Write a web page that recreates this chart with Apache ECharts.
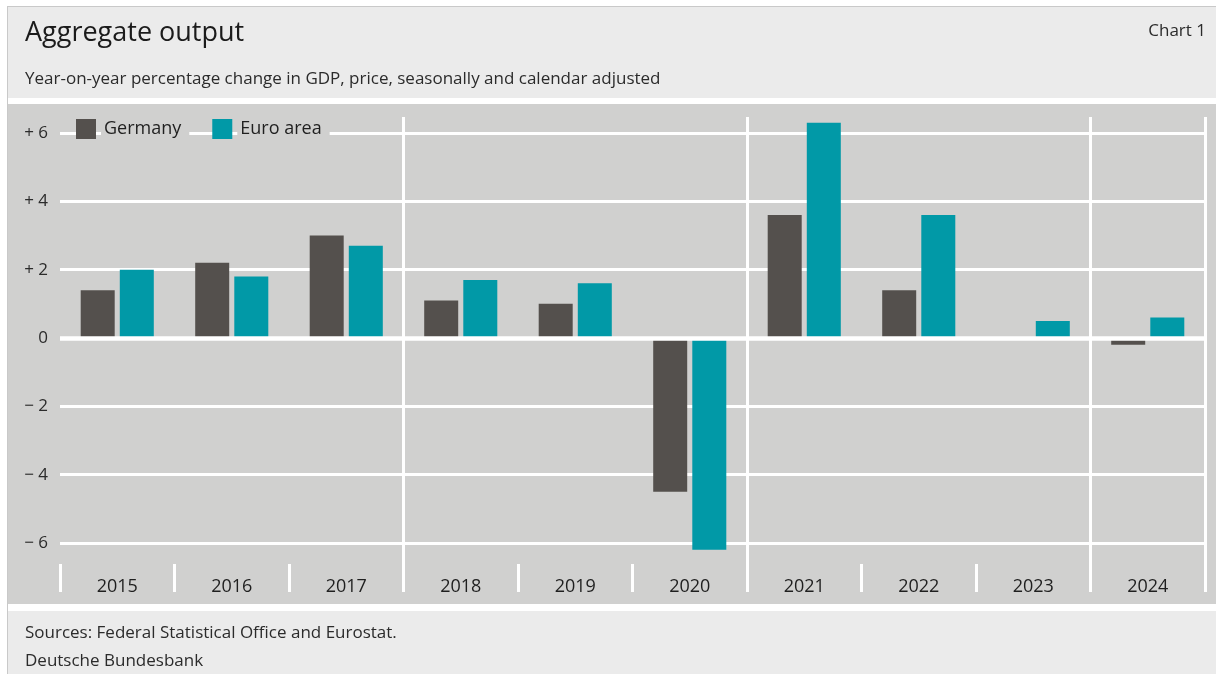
<!DOCTYPE html>
<html>
<head>
<meta charset="utf-8">
<script src="https://cdn.jsdelivr.net/npm/echarts@6/dist/echarts.min.js"></script>
<style>
  html, body { margin: 0; padding: 0; background: #ffffff; width: 1216px; height: 674px; overflow: hidden; }
  #panel { position: absolute; left: 7px; top: 6px; width: 1209px; height: 668px; background: #ebebeb; border-left: 1px solid #c9c9c9; border-top: 1px solid #c9c9c9; box-sizing: border-box; }
  #band1 { position: absolute; left: 8px; top: 98px; width: 1208px; height: 6px; background: #ffffff; }
  #plotbg { position: absolute; left: 8px; top: 104px; width: 1208px; height: 500px; background: #d0d0cf; }
  #band2 { position: absolute; left: 8px; top: 604px; width: 1208px; height: 7px; background: #ffffff; }
  #chart { position: absolute; left: 0; top: 0; width: 1216px; height: 674px; }
</style>
</head>
<body>
<div id="panel"></div>
<div id="band1"></div>
<div id="plotbg"></div>
<div id="band2"></div>
<div id="chart"></div>
<script>
// ---- data ----
const years = ['2015', '2016', '2017', '2018', '2019', '2020', '2021', '2022', '2023', '2024'];
const germany = [1.4, 2.2, 3.0, 1.1, 1.0, -4.5, 3.6, 1.4, 0.0, -0.2];
const euroArea = [2.0, 1.8, 2.7, 1.7, 1.6, -6.2, 6.3, 3.6, 0.5, 0.6];
const seriesNames = ['Germany', 'Euro area'];
const yTicks = { min: -6, max: 6, interval: 2 };
const titleText = 'Aggregate output';
const subtitleText = 'Year-on-year percentage change in GDP, price, seasonally and calendar adjusted';
const chartNo = 'Chart 1';
const sourceText = 'Sources: Federal Statistical Office and Eurostat.';
const publisher = 'Deutsche Bundesbank';

const FONT = '"Open Sans", "Noto Sans", sans-serif';
const chart = echarts.init(document.getElementById('chart'), null, { renderer: 'canvas' });

function fmtY(v) {
  if (v > 0) return '+ ' + v;
  if (v < 0) return '\u2212 ' + (-v);
  return '0';
}

chart.setOption({
  animation: false,
  backgroundColor: 'transparent',
  textStyle: { fontFamily: FONT },
  graphic: [
    { type: 'text', left: 25, top: 20, style: { text: titleText, font: '400 27px ' + FONT, fill: '#1b1b1b' } },
    { type: 'text', left: 25, top: 71, style: { text: subtitleText, font: '400 17px ' + FONT, fill: '#2b2b2b' } },
    { type: 'text', right: 10, top: 23, style: { text: chartNo, font: '400 17px ' + FONT, fill: '#2b2b2b' } },
    { type: 'text', left: 25, top: 625, style: { text: sourceText, font: '400 17px ' + FONT, fill: '#2b2b2b' } },
    { type: 'text', left: 25, top: 653, style: { text: publisher, font: '400 17px ' + FONT, fill: '#2b2b2b' } }
  ],
  legend: {
    data: seriesNames,
    left: 76,
    top: 117,
    padding: 0,
    itemWidth: 20,
    itemHeight: 20,
    itemGap: 23,
    icon: 'rect',
    selectedMode: false,
    textStyle: {
      fontSize: 18,
      color: '#1f1f1f',
      fontFamily: FONT,
      backgroundColor: '#d0d0cf',
      padding: [3, 8, 3, 3]
    }
  },
  grid: [
    { left: 60, right: 11, top: 133, bottom: 131 },
    { left: 60, right: 11, top: 117, bottom: 82 }
  ],
  xAxis: [
    {
      type: 'category',
      gridIndex: 0,
      data: years,
      axisLine: { show: false, onZero: false },
      axisTick: { show: false },
      splitLine: { show: false },
      axisLabel: { fontSize: 18, color: '#1f1f1f', fontFamily: FONT, margin: 44, verticalAlign: 'middle', lineHeight: 20 }
    },
    {
      type: 'category',
      gridIndex: 1,
      data: years,
      axisLine: { show: false },
      axisLabel: { show: false },
      axisTick: { show: true, inside: true, length: 28, interval: 0, lineStyle: { color: '#ffffff', width: 3 } },
      splitLine: {
        show: true,
        interval: function (i) { return i === 3 || i === 6 || i === 9; },
        lineStyle: { color: '#ffffff', width: 3 }
      }
    }
  ],
  yAxis: [
    {
      type: 'value',
      gridIndex: 0,
      min: yTicks.min,
      max: yTicks.max,
      interval: yTicks.interval,
      axisLine: { show: false },
      axisTick: { show: false },
      axisLabel: { formatter: fmtY, fontSize: 17, color: '#2b2b2b', fontFamily: FONT, margin: 12 },
      splitLine: { show: true, lineStyle: { color: '#ffffff', width: 3 } }
    },
    {
      type: 'value',
      gridIndex: 1,
      show: false,
      min: 0,
      max: 1,
      splitLine: { show: false }
    }
  ],
  series: [
    {
      name: seriesNames[0],
      type: 'bar',
      xAxisIndex: 0,
      yAxisIndex: 0,
      data: germany,
      clip: false,
      barWidth: 34,
      barGap: '15%',
      itemStyle: { color: '#54504d' }
    },
    {
      name: seriesNames[1],
      type: 'bar',
      xAxisIndex: 0,
      yAxisIndex: 0,
      data: euroArea,
      clip: false,
      barWidth: 34,
      barGap: '15%',
      itemStyle: { color: '#0199a7' },
      markLine: {
        silent: true,
        symbol: ['none', 'none'],
        label: { show: false },
        lineStyle: { color: '#ffffff', width: 4.5, type: 'solid' },
        emphasis: { disabled: true },
        data: [{ yAxis: 0 }]
      }
    }
  ]
});
</script>
</body>
</html>
